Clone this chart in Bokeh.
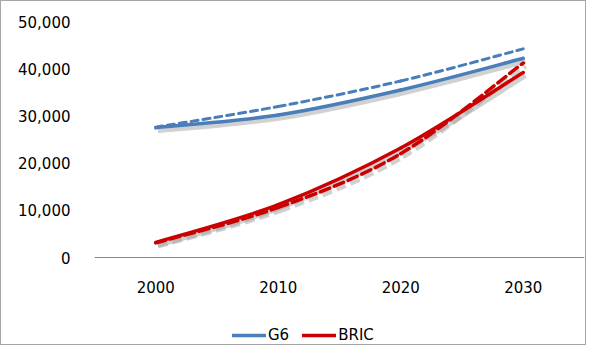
from bokeh.plotting import figure
from bokeh.models import ColumnDataSource, FixedTicker, NumeralTickFormatter, Legend, LegendItem, Range1d
from bokeh.transform import dodge
from bokeh.embed import file_html
from bokeh.resources import INLINE

years = ["2000", "2010", "2020", "2030"]
g6_solid = [27500, 30200, 35500, 42200]
g6_dashed = [27600, 32000, 37400, 44200]
bric_solid = [3200, 11200, 23200, 39200]
bric_dashed = [3100, 10600, 22000, 41200]
y_ticks = [0, 10000, 20000, 30000, 40000, 50000]

BLUE = "#4a7ebb"
RED = "#cc0000"
FONT = "DejaVu Sans"

# layout (pixels)
W, H = 586, 345
TOP, LEFT, RIGHT = 20, 93, 3
AXIS_Y = 256            # pixel row of the value 0
Y_MAX = 50000
y_start = -Y_MAX * (H - AXIS_Y) / (AXIS_Y - TOP)


def bezier_source(vals):
    n = len(vals)
    xs = [i + 0.5 for i in range(n)]
    d = dict(x0=[], y0=[], x1=[], y1=[], cx0=[], cy0=[], cx1=[], cy1=[])
    for i in range(n - 1):
        pm = max(i - 1, 0)
        pp = min(i + 2, n - 1)
        d["x0"].append(xs[i]); d["y0"].append(vals[i])
        d["x1"].append(xs[i + 1]); d["y1"].append(vals[i + 1])
        d["cx0"].append(xs[i] + (xs[i + 1] - xs[pm]) / 6)
        d["cy0"].append(vals[i] + (vals[i + 1] - vals[pm]) / 6)
        d["cx1"].append(xs[i + 1] - (xs[pp] - xs[i]) / 6)
        d["cy1"].append(vals[i + 1] - (vals[pp] - vals[i]) / 6)
    return ColumnDataSource(d)


p = figure(width=W, height=H, output_backend="svg", toolbar_location=None,
           x_range=Range1d(0, len(years)), y_range=Range1d(y_start, Y_MAX),
           min_border_left=LEFT, min_border_right=RIGHT, min_border_top=TOP, min_border_bottom=0)
p.styles = {"border": "1px solid #a6a6a6"}
p.outline_line_color = None
p.xgrid.visible = False
p.ygrid.visible = False
p.background_fill_color = "white"
p.border_fill_color = "white"

DX, DY = 0.018, -650


def shadow(src, dash="solid"):
    p.bezier(x0=dodge("x0", DX), y0=dodge("y0", DY), x1=dodge("x1", DX), y1=dodge("y1", DY),
             cx0=dodge("cx0", DX), cy0=dodge("cy0", DY), cx1=dodge("cx1", DX), cy1=dodge("cy1", DY),
             source=src, line_color="#9a9a9a", line_alpha=0.45, line_width=5, line_dash=dash)


def curve(src, color, dash="solid", width=3.5):
    return p.bezier(x0="x0", y0="y0", x1="x1", y1="y1", cx0="cx0", cy0="cy0", cx1="cx1", cy1="cy1",
                    source=src, line_color=color, line_width=width, line_dash=dash, line_cap="round")


s_g6 = bezier_source(g6_solid)
s_g6d = bezier_source(g6_dashed)
s_br = bezier_source(bric_solid)
s_brd = bezier_source(bric_dashed)

shadow(s_g6)
shadow(s_br)
shadow(s_brd, "10 5")
curve(s_g6d, BLUE, "7 5", 3)
r_g6 = curve(s_g6, BLUE)
curve(s_brd, RED, "10 5", 3.5)
r_br = curve(s_br, RED)

legend = Legend(items=[LegendItem(label="G6", renderers=[r_g6], index=0),
                       LegendItem(label="BRIC", renderers=[r_br], index=0)],
                orientation="horizontal", location=(138, 2), padding=0, margin=0, spacing=13,
                label_standoff=2, glyph_width=34, glyph_height=18, label_height=18,
                label_text_font=FONT, label_text_font_size="15px", label_text_color="black",
                border_line_color=None, background_fill_alpha=0)
p.add_layout(legend, "center")

xa = p.xaxis[0]
xa.fixed_location = 0
xa.ticker = FixedTicker(ticks=[i + 0.5 for i in range(len(years))])
xa.major_label_overrides = {i + 0.5: y for i, y in enumerate(years)}
xa.axis_line_color = "#868686"
xa.major_tick_line_color = None
xa.minor_tick_line_color = None
xa.major_label_standoff = 17
xa.major_label_text_font = FONT
xa.major_label_text_font_size = "15px"
xa.major_label_text_color = "black"

ya = p.yaxis[0]
ya.ticker = FixedTicker(ticks=y_ticks)
ya.formatter = NumeralTickFormatter(format="0,0")
ya.axis_line_color = None
ya.major_tick_line_color = None
ya.minor_tick_line_color = None
ya.major_label_standoff = 18
ya.major_label_text_font = FONT
ya.major_label_text_font_size = "15px"
ya.major_label_text_color = "black"

open("out.html", "w").write(file_html(p, INLINE))
